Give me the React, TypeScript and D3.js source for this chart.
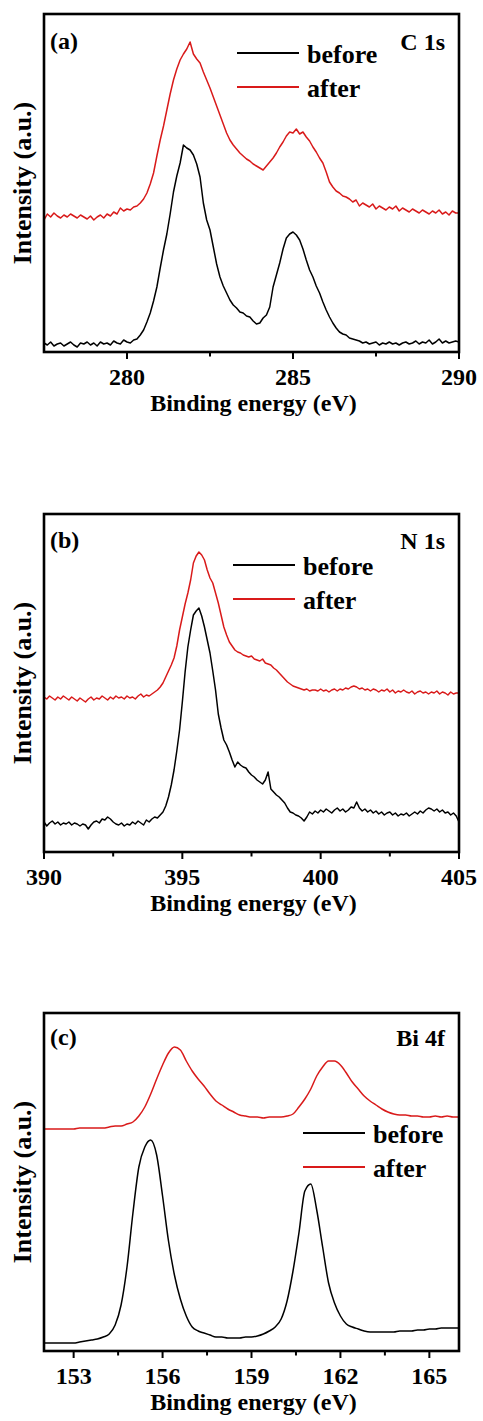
import * as d3 from 'd3'

// XPS spectra; intensity is in arbitrary units (0 = frame bottom, 338 = frame top)
const C1S_START = 277.5
const C1S_STEP = 0.1
const c1sBefore = [
  9, 7, 10, 6, 8, 9, 6, 8, 10, 7,
  5, 9, 8, 10, 7, 9, 6, 10, 8, 9,
  7, 11, 9, 8, 12, 10, 9, 12, 13, 17,
  22, 30, 39, 51, 65, 84, 102, 118, 138, 160,
  176, 189, 207, 204, 202, 197, 188, 175, 149, 132,
  122, 105, 88, 75, 66, 59, 52, 47, 44, 40,
  39, 36, 35, 31, 28, 29, 34, 37, 45, 65,
  77, 89, 103, 114, 118, 120, 117, 112, 103, 92,
  82, 75, 66, 59, 50, 42, 35, 29, 24, 20,
  18, 17, 14, 13, 12, 11, 9, 10, 8, 9,
  10, 7, 9, 8, 10, 8, 9, 7, 9, 10,
  8, 9, 11, 8, 10, 9, 12, 8, 10, 13,
  9, 11, 9, 10, 11, 10,
]
const c1sAfter = [
  132, 138, 135, 139, 136, 134, 137, 135, 138, 136,
  134, 137, 135, 133, 136, 132, 135, 137, 134, 138,
  136, 140, 138, 144, 141, 143, 142, 145, 146, 149,
  153, 159, 168, 179, 196, 212, 226, 242, 258, 272,
  283, 292, 298, 303, 310, 298, 293, 289, 280, 272,
  264, 255, 246, 237, 228, 219, 212, 207, 203, 199,
  196, 193, 191, 188, 186, 184, 182, 186, 190, 194,
  199, 205, 210, 216, 220, 219, 223, 218, 220, 215,
  211, 205, 200, 194, 189, 180, 170, 165, 161, 159,
  156, 155, 153, 150, 152, 146, 149, 147, 145, 148,
  143, 146, 144, 142, 145, 143, 146, 141, 144, 142,
  140, 143, 141, 139, 142, 140, 138, 141, 139, 142,
  138, 140, 137, 141, 139, 139,
]

const N1S_START = 390
const N1S_STEP = 0.1
const n1sBefore = [
  30, 26, 29, 31, 28, 30, 27, 29, 28, 30,
  27, 29, 28, 26, 28, 27, 23, 27, 30, 31,
  29, 33, 32, 35, 33, 30, 28, 27, 29, 26,
  28, 27, 30, 28, 31, 29, 27, 32, 30, 33,
  35, 34, 37, 40, 46, 55, 67, 82, 101, 122,
  150, 180, 205, 222, 237, 241, 244, 236, 225, 212,
  199, 181, 162, 138, 124, 112, 107, 100, 92, 85,
  90, 87, 85, 84, 80, 77, 75, 72, 70, 68,
  72, 80, 63, 60, 57, 55, 52, 49, 44, 40,
  39, 37, 36, 34, 31, 35, 40, 38, 41, 39,
  42, 40, 43, 41, 39, 42, 44, 41, 43, 40,
  42, 45, 44, 50, 44, 41, 43, 40, 42, 39,
  41, 38, 40, 37, 39, 40, 37, 39, 36, 38,
  37, 39, 36, 38, 40, 38, 41, 39, 42, 44,
  43, 41, 43, 40, 42, 39, 40, 37, 39, 36,
  30,
]
const n1sAfter = [
  155, 153, 156, 154, 152, 155, 153, 156, 154, 152,
  155, 153, 151, 154, 152, 150, 153, 155, 152, 154,
  153, 156, 154, 152, 155, 153, 156, 154, 155, 153,
  156, 154, 155, 153, 156, 158, 155, 157, 156, 158,
  160, 162, 165, 169, 175, 181, 187, 194, 206, 222,
  235, 248, 259, 272, 289, 296, 300, 297, 292, 282,
  274, 269, 259, 249, 237, 225, 217, 210, 206, 202,
  200, 199, 197, 196, 195, 196, 193, 192, 191, 193,
  189, 188, 187, 184, 182, 179, 176, 173, 170, 168,
  166, 165, 164, 163, 162, 163, 161, 162, 162, 161,
  163, 161, 162, 160, 162, 163, 161, 163, 162, 164,
  163, 165, 166, 165, 163, 164, 162, 163, 161, 163,
  162, 160, 162, 161, 163, 160, 162, 159, 161, 160,
  162, 160, 159, 161, 158, 160, 161, 159, 160, 158,
  160, 159, 161, 158, 160, 159, 157, 160, 158, 159,
  159,
]

const BI4F_START = 152
const BI4F_STEP = 0.2
const bi4fBefore = [
  8, 8, 8, 8, 8,
  8, 9, 10, 11, 12,
  14, 17, 26, 46, 84,
  138, 184, 204, 211, 196,
  155, 110, 76, 52, 35,
  24, 20, 18, 16, 14,
  14, 13, 13, 13, 14,
  14, 15, 17, 20, 24,
  32, 50, 80, 118, 160,
  167, 141, 104, 68, 48,
  35, 27, 24, 22, 20,
  19, 19, 19, 19, 19,
  20, 20, 20, 21, 21,
  22, 22, 23, 23, 23,
  23,
]
const bi4fAfter = [
  222, 222, 222, 222, 222,
  222, 223, 223, 223, 223,
  223, 224, 225, 225, 227,
  229, 235, 244, 257, 272,
  286, 298, 304, 301, 290,
  280, 272, 265, 257, 250,
  246, 242, 239, 236, 235,
  234, 234, 233, 234, 234,
  234, 235, 237, 244, 252,
  262, 275, 284, 290, 290,
  286, 278, 269, 262, 255,
  250, 246, 242, 239, 237,
  236, 236, 235, 235, 234,
  234, 235, 234, 235, 234,
  234,
]

const seriesNames = ['before', 'after']
const seriesColors = ['#000000', '#d91a1a']

const panels = [
  {
    tag: '(a)', level: 'C 1s', domain: [277.5, 290], majorTicks: [280, 285, 290], minorTicks: [282.5, 287.5],
    start: C1S_START, step: C1S_STEP, series: [c1sBefore, c1sAfter], smooth: false,
    top: 14, tagDy: 35, legend: { x: 237, y: 53 },
  },
  {
    tag: '(b)', level: 'N 1s', domain: [390, 405], majorTicks: [390, 395, 400, 405], minorTicks: [392.5, 397.5, 402.5],
    start: N1S_START, step: N1S_STEP, series: [n1sBefore, n1sAfter], smooth: false,
    top: 514, tagDy: 34, legend: { x: 233, y: 565 },
  },
  {
    tag: '(c)', level: 'Bi 4f', domain: [152, 166], majorTicks: [153, 156, 159, 162, 165], minorTicks: [154.5, 157.5, 160.5, 163.5],
    start: BI4F_START, step: BI4F_STEP, series: [bi4fBefore, bi4fAfter], smooth: true,
    top: 1013, tagDy: 32, legend: { x: 303, y: 1133 },
  },
]

const W = 483
const H = 1421
const LEFT = 44
const RIGHT = 459
const PANEL_H = 338
const FONT = "'Liberation Serif', Tinos, 'Noto Serif', FreeSerif, 'Nimbus Roman', 'TeX Gyre Termes', 'DejaVu Serif', 'Times New Roman', Times, serif"
const txt = { fontFamily: FONT, fontWeight: 700 as const }

function Panel({ p, idx }: { p: any; idx: number }) {
  const bottom = p.top + PANEL_H
  const x = d3.scaleLinear().domain(p.domain).range([LEFT, RIGHT])
  const y = d3.scaleLinear().domain([0, PANEL_H]).range([bottom, p.top])
  const line = d3.line<number>()
    .x((_, i) => x(p.start + i * p.step))
    .y(d => y(d))
    .curve(p.smooth ? d3.curveMonotoneX : d3.curveLinear)
  const clipId = `clip-${idx}`
  const midY = (p.top + bottom) / 2

  return (
    <g>
      <defs>
        <clipPath id={clipId}>
          <rect x={LEFT} y={p.top} width={RIGHT - LEFT} height={PANEL_H} />
        </clipPath>
      </defs>
      <g clipPath={`url(#${clipId})`}>
        {p.series.map((vals: number[], i: number) => (
          <path key={i} d={line(vals) ?? ''} fill="none" stroke={seriesColors[i]} strokeWidth={1.5} strokeLinejoin="round" />
        ))}
      </g>
      <rect x={LEFT} y={p.top} width={RIGHT - LEFT} height={PANEL_H} fill="none" stroke="#000" strokeWidth={2.6} />
      {p.majorTicks.map((t: number) => (
        <g key={`M${t}`}>
          <line x1={x(t)} x2={x(t)} y1={bottom} y2={bottom + 7} stroke="#000" strokeWidth={2} />
          <text x={x(t)} y={bottom + 33} textAnchor="middle" fontSize={24} style={txt}>{t}</text>
        </g>
      ))}
      {p.minorTicks.map((t: number) => (
        <line key={`m${t}`} x1={x(t)} x2={x(t)} y1={bottom} y2={bottom + 4.5} stroke="#000" strokeWidth={2} />
      ))}
      <text x={(LEFT + RIGHT) / 2 + 2} y={bottom + 59} textAnchor="middle" fontSize={24} style={txt}>
        Binding energy (eV)
      </text>
      <text transform={`translate(31,${midY}) rotate(-90)`} textAnchor="middle" fontSize={26} style={txt}>
        Intensity (a.u.)
      </text>
      <text x={50} y={p.top + p.tagDy} fontSize={24} style={txt}>{p.tag}</text>
      <text x={445} y={p.top + p.tagDy + 1} textAnchor="end" fontSize={24} style={txt}>{p.level}</text>
      {seriesNames.map((name, i) => (
        <g key={name} transform={`translate(${p.legend.x},${p.legend.y + i * 34})`}>
          <line x1={0} x2={62} y1={0} y2={0} stroke={seriesColors[i]} strokeWidth={2} />
          <text x={70} y={10} fontSize={26} style={txt}>{name}</text>
        </g>
      ))}
    </g>
  )
}

export default function App() {
  return (
    <div style={{ position: 'absolute', left: 0, top: 0 }}>
      <svg width={W} height={H} viewBox={`0 0 ${W} ${H}`} style={{ display: 'block', background: '#fff' }}>
        {panels.map((p, i) => <Panel key={p.tag} p={p} idx={i} />)}
      </svg>
    </div>
  )
}
